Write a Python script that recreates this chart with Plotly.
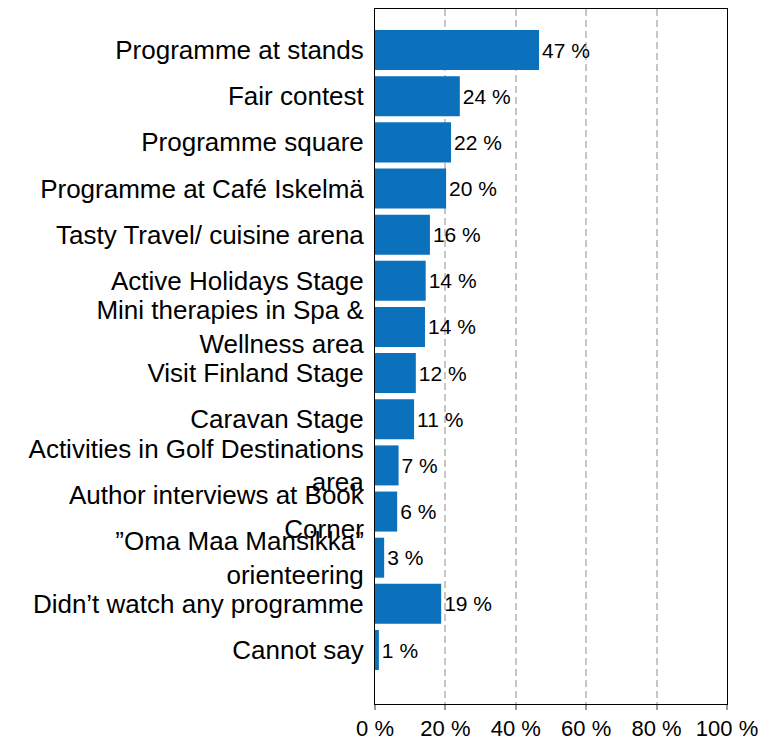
import plotly.graph_objects as go

# Data
categories = [
    "Programme at stands",
    "Fair contest",
    "Programme square",
    "Programme at Café Iskelmä",
    "Tasty Travel/ cuisine arena",
    "Active Holidays Stage",
    "Mini therapies in Spa &<br>Wellness area",
    "Visit Finland Stage",
    "Caravan Stage",
    "Activities in Golf Destinations<br>area",
    "Author interviews at Book<br>Corner",
    "”Oma Maa Mansikka”<br>orienteering",
    "Didn’t watch any programme",
    "Cannot say",
]
shares = [46.6, 24.1, 21.6, 20.2, 15.6, 14.4, 14.2, 11.6, 11.1, 6.7, 6.3, 2.6, 18.8, 1.1]
x_tick_values = [0, 20, 40, 60, 80, 100]
x_tick_labels = ["0 %", "20 %", "40 %", "60 %", "80 %", "100 %"]

BAR_COLOR = "#0c71bd"
FONT = "Liberation Sans, Arial, sans-serif"

bar_labels = [f"{round(v)} %" for v in shares]

fig = go.Figure(
    go.Bar(
        x=shares,
        y=categories,
        orientation="h",
        marker=dict(color=BAR_COLOR, line=dict(width=0)),
        text=bar_labels,
        textposition="outside",
        textfont=dict(size=21, color="black", family=FONT),
        cliponaxis=False,
        hoverinfo="skip",
    )
)

n = len(categories)
# the page body has an 8px margin, so the figure is a bit smaller than the window
fig.update_layout(
    width=766,
    height=732,
    margin=dict(l=367, r=47, t=1, b=36),
    paper_bgcolor="white",
    plot_bgcolor="white",
    font=dict(family=FONT, color="black"),
    bargap=0.133,
    showlegend=False,
)
fig.update_xaxes(
    range=[0, 100],
    tickvals=x_tick_values,
    ticktext=x_tick_labels,
    tickfont=dict(size=22, color="black"),
    ticks="outside",
    ticklen=5,
    tickwidth=2,
    tickcolor="#999999",
    showgrid=True,
    gridcolor="#c6c6c6",
    gridwidth=2,
    griddash="7px,4px",
    zeroline=False,
    showline=True,
    linecolor="black",
    linewidth=1,
    mirror=True,
    automargin=False,
)
fig.update_yaxes(
    categoryorder="array",
    categoryarray=categories,
    range=[n - 1 + 1.17, -0.89],
    tickfont=dict(size=26, color="black"),
    ticks="",
    ticklabelstandoff=5,
    showgrid=False,
    zeroline=False,
    showline=True,
    linecolor="black",
    linewidth=1,
    mirror=True,
    automargin=False,
)

fig.write_html("out.html")
